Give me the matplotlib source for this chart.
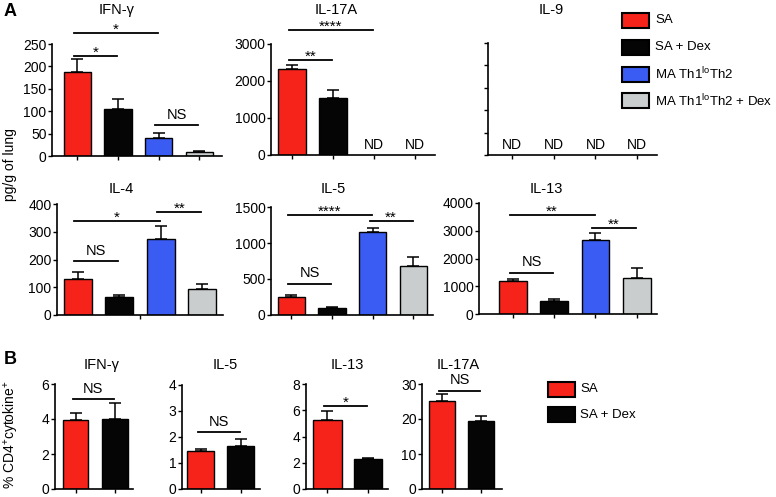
import numpy as np
import matplotlib
matplotlib.use("Agg")
import matplotlib.pyplot as plt
from matplotlib.patches import Rectangle

plt.rcParams['font.family'] = ['Liberation Sans', 'DejaVu Sans']
plt.rcParams['mathtext.fontset'] = 'custom'
plt.rcParams['mathtext.rm'] = 'Liberation Sans'
plt.rcParams['mathtext.it'] = 'Liberation Sans:italic'

# группы и цвета
groups_a = ["SA", "SA + Dex", "MA Th1$^{\\rm lo}$Th2", "MA Th1$^{\\rm lo}$Th2 + Dex"]
groups_b = ["SA", "SA + Dex"]
colors = ["#f5231a", "#050505", "#3a5cf2", "#c9cdcd"]

# панель A (pg/g of lung)
ifng_a = [188, 104, 40, 9]
ifng_a_err = [28, 23, 12, 3]
il17a_a = [2330, 1540, np.nan, np.nan]
il17a_a_err = [110, 210, 0, 0]
il9_a = [np.nan, np.nan, np.nan, np.nan]
il9_a_err = [0, 0, 0, 0]
il4_a = [130, 64, 273, 94]
il4_a_err = [26, 8, 49, 17]
il5_a = [254, 93, 1157, 680]
il5_a_err = [26, 18, 47, 130]
il13_a = [1190, 480, 2650, 1310]
il13_a_err = [60, 50, 260, 350]

# панель B (% CD4+cytokine+)
ifng_b = [3.95, 4.0]
ifng_b_err = [0.37, 0.92]
il5_b = [1.46, 1.65]
il5_b_err = [0.06, 0.26]
il13_b = [5.28, 2.27]
il13_b_err = [0.65, 0.08]
il17a_b = [25.1, 19.3]
il17a_b_err = [2.1, 1.6]

# значимость: (от, до, высота, подпись)
ifng_a_sig = [(0, 1, 224, "*"), (0, 2, 275, "*"), (2, 3, 69, "NS")]
il17a_a_sig = [(0, 1, 2575, "**"), (0, 2, 3380, "****")]
il4_a_sig = [(0, 1, 195, "NS"), (0, 2, 340, "*"), (2, 3, 371, "**")]
il5_a_sig = [(0, 1, 435, "NS"), (0, 2, 1393, "****"), (2, 3, 1300, "**")]
il13_a_sig = [(0, 1, 1490, "NS"), (0, 2, 3570, "**"), (2, 3, 3090, "**")]
ifng_b_sig = [(0, 1, 5.14, "NS")]
il5_b_sig = [(0, 1, 2.18, "NS")]
il13_b_sig = [(0, 1, 6.3, "*")]
il17a_b_sig = [(0, 1, 28.1, "NS")]

W, H = 776, 497
fig = plt.figure(figsize=(W / 100, H / 100), dpi=100)


def px_axes(x0, x1, ytop, ybot):
    return fig.add_axes([x0 / W, 1 - ybot / H, (x1 - x0) / W, (ybot - ytop) / H])


def fig_text(x, y, s, **kw):
    fig.text(x / W, 1 - y / H, s, **kw)


def draw_panel(ax, vals, errs, sig, yticks, xlim, width=0.67, labels=True, nd=False, xticks=None):
    n = len(vals)
    x = np.arange(n)
    for i in range(n):
        if np.isnan(vals[i]):
            if nd:
                ax.text(x[i], yticks[-1] * 0.03, "ND", ha='center', va='bottom', fontsize=10)
            continue
        ax.bar(x[i], vals[i], width=width, color=colors[i], edgecolor='black',
               linewidth=1.0, zorder=2)
        ax.errorbar(x[i], vals[i], yerr=[[0], [errs[i]]], fmt='none', ecolor='black',
                    elinewidth=1.1, capsize=4, capthick=1.1, zorder=1)
    rng = yticks[-1]
    for i, j, y, lab in sig:
        ax.plot([i - 0.08, j - 0.02], [y, y], color='black', lw=1.3, clip_on=False)
        if lab == "NS":
            ax.text((i + j) / 2 - 0.05, y + rng * 0.03, lab, ha='center', va='bottom',
                    fontsize=10.5)
        else:
            ax.text((i + j) / 2 - 0.05, y - rng * 0.035, lab, ha='center', va='bottom',
                    fontsize=11)
    ax.set_xlim(*xlim)
    ax.set_ylim(0, yticks[-1])
    ax.set_yticks(yticks)
    if not labels:
        ax.set_yticklabels([])
    if xticks is None:
        ax.set_xticks(x)
    else:
        ax.set_xticks(xticks)
    ax.set_xticklabels([])
    for s in ['top', 'right']:
        ax.spines[s].set_visible(False)
    for s in ['left', 'bottom']:
        ax.spines[s].set_linewidth(1.2)
    ax.tick_params(axis='both', direction='out', length=3, width=1.0, labelsize=10, pad=1)
    ax.set_facecolor('none')


# ---- панель A ----
ax = px_axes(52, 222, 44, 156)
draw_panel(ax, ifng_a, ifng_a_err, ifng_a_sig, [0, 50, 100, 150, 200, 250], (-0.62, 3.56))
fig_text(117, 10, "IFN-γ", ha='center', va='center', fontsize=10.5)

ax = px_axes(271, 435, 44, 155)
draw_panel(ax, il17a_a, il17a_a_err, il17a_a_sig, [0, 1000, 2000, 3000], (-0.51, 3.49), nd=True)
fig_text(336, 10, "IL-17A", ha='center', va='center', fontsize=10.5)

ax = px_axes(488, 657, 43, 155)
draw_panel(ax, il9_a, il9_a_err, [], [0, 1, 2, 3, 4, 5], (-0.58, 3.48), labels=False, nd=True)
fig_text(551, 10, "IL-9", ha='center', va='center', fontsize=10.5)

ax = px_axes(57, 223, 204, 315)
draw_panel(ax, il4_a, il4_a_err, il4_a_sig, [0, 100, 200, 300, 400], (-0.5, 3.5), xticks=[1.5])
fig_text(121, 189, "IL-4", ha='center', va='center', fontsize=10.5)

ax = px_axes(271, 433, 207, 315)
draw_panel(ax, il5_a, il5_a_err, il5_a_sig, [0, 500, 1000, 1500], (-0.5, 3.48))
fig_text(333, 189, "IL-5", ha='center', va='center', fontsize=10.5)

ax = px_axes(479, 657, 203, 314)
draw_panel(ax, il13_a, il13_a_err, il13_a_sig, [0, 1000, 2000, 3000, 4000], (-0.82, 3.49))
fig_text(546, 189, "IL-13", ha='center', va='center', fontsize=10.5)

fig_text(10, 165, "pg/g of lung", rotation=90, ha='center', va='center', fontsize=10)
fig_text(4, 11, "A", ha='left', va='center', fontsize=13, fontweight='bold')

# легенда A
for k, (g, c) in enumerate(zip(groups_a, colors)):
    yc = 20 + k * 27
    fig.patches.append(Rectangle((622 / W, 1 - (yc + 7.5) / H), 27 / W, 15 / H,
                                 transform=fig.transFigure, facecolor=c,
                                 edgecolor='black', linewidth=1.5))
    fig_text(655, yc, g, ha='left', va='center', fontsize=9.5)

# ---- панель B ----
ax = px_axes(55, 133, 384, 489)
draw_panel(ax, ifng_b, ifng_b_err, ifng_b_sig, [0, 2, 4, 6], (-0.53, 1.46), width=0.64)
fig_text(102, 365, "IFN-γ", ha='center', va='center', fontsize=10.5)

ax = px_axes(182, 260, 385, 489)
draw_panel(ax, il5_b, il5_b_err, il5_b_sig, [0, 1, 2, 3, 4], (-0.47, 1.49), width=0.67)
fig_text(225, 365, "IL-5", ha='center', va='center', fontsize=10.5)

ax = px_axes(306, 388, 384, 489)
draw_panel(ax, il13_b, il13_b_err, il13_b_sig, [0, 2, 4, 6, 8], (-0.53, 1.5), width=0.7)
fig_text(347, 365, "IL-13", ha='center', va='center', fontsize=10.5)

ax = px_axes(422, 502, 384, 489)
draw_panel(ax, il17a_b, il17a_b_err, il17a_b_sig, [0, 10, 20, 30], (-0.5, 1.53), width=0.67)
fig_text(458, 365, "IL-17A", ha='center', va='center', fontsize=10.5)

fig_text(12, 435, "% CD4$^{+}$cytokine$^{+}$", rotation=90, ha='center', va='center', fontsize=10)
fig_text(4, 360, "B", ha='left', va='center', fontsize=13, fontweight='bold')

# легенда B
for k, (g, c) in enumerate(zip(groups_b, colors)):
    yc = 389.5 + k * 25
    fig.patches.append(Rectangle((548 / W, 1 - (yc + 7.5) / H), 27 / W, 15 / H,
                                 transform=fig.transFigure, facecolor=c,
                                 edgecolor='black', linewidth=1.5))
    fig_text(580, yc, g, ha='left', va='center', fontsize=9.5)

fig.savefig("out.png", dpi=100)
